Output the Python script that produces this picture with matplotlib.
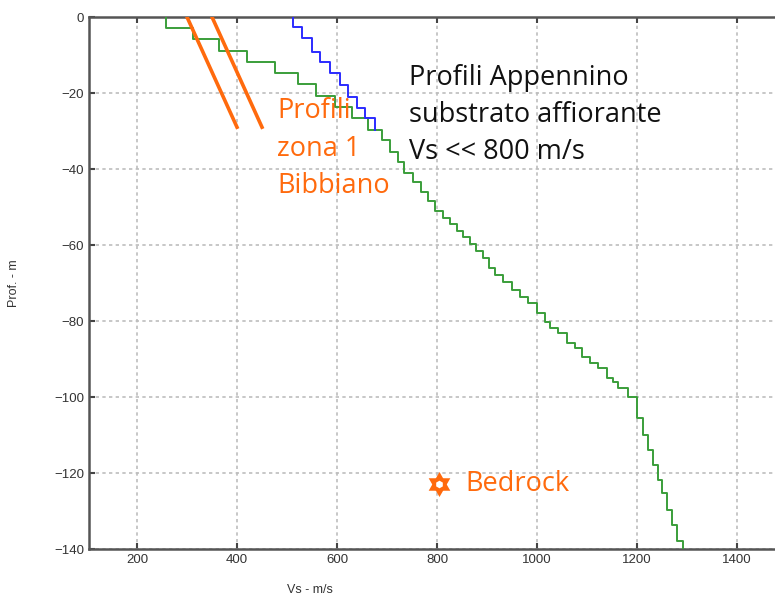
import numpy as np
import matplotlib
matplotlib.use("Agg")
import matplotlib.pyplot as plt

# Profilo verde (Vs di ogni strato e profondità alla base dello strato)
vs_verde = [258, 312, 364, 420, 476, 522, 558, 596, 630, 662, 690, 706, 722,
            734, 752, 768, 782, 796, 812, 826, 840, 852, 866, 878, 892, 904,
            916, 932, 950, 966, 982, 1000, 1016, 1026, 1042, 1060, 1076, 1090,
            1106, 1122, 1140, 1152, 1162, 1182, 1200, 1212, 1222, 1232, 1242,
            1250, 1260, 1270, 1280, 1292]
z_verde = [-2.9, -5.8, -8.9, -11.8, -14.7, -17.6, -20.8, -23.7, -26.6, -29.7,
           -32.4, -35.5, -38.2, -41.0, -43.5, -46.0, -48.5, -51.0, -52.8,
           -54.5, -56.2, -58.0, -59.8, -61.5, -63.3, -66.0, -67.9, -69.7,
           -71.8, -73.7, -75.3, -77.9, -80.3, -81.8, -83.2, -85.8, -87.1,
           -89.5, -91.0, -92.4, -95.0, -96.0, -97.6, -100.0, -105.5, -110.0,
           -114.0, -117.9, -121.8, -125.3, -129.7, -133.7, -137.9, -140.0]

# Profilo blu
vs_blu = [512, 530, 550, 566, 586, 606, 622, 640, 656, 676]
z_blu = [-2.6, -5.5, -9.2, -11.8, -14.7, -17.9, -21.0, -23.9, -26.6, -29.7]

# Profili zona 1 Bibbiano (rette)
vs_bib1 = [300, 400]
z_bib1 = [0, -29]
vs_bib2 = [350, 450]
z_bib2 = [0, -29]

# Bedrock
vs_bedrock = 805
z_bedrock = -123

x_ticks = [200, 400, 600, 800, 1000, 1200, 1400]
y_ticks = [0, -20, -40, -60, -80, -100, -120, -140]

arancio = '#ff6a0d'


def profilo_a_gradini(vs, z):
    # ogni strato: tratto verticale da tetto a base, poi orizzontale
    xs, ys = [], []
    tetto = 0
    for v, base in zip(vs, z):
        xs += [v, v]
        ys += [tetto, base]
        tetto = base
    return xs, ys


fig = plt.figure(figsize=(7.75, 5.99), dpi=100)
ax = fig.add_axes([89/775, 50/599, 698/775, 532/599])

xg, yg = profilo_a_gradini(vs_verde, z_verde)
ax.plot(xg, yg, color='#3a9e3a', lw=1.4, zorder=3)
xb, yb = profilo_a_gradini(vs_blu, z_blu)
ax.plot(xb, yb, color='#2b2bff', lw=1.4, zorder=4)

ax.plot(vs_bib1, z_bib1, color=arancio, lw=2.6, zorder=5)
ax.plot(vs_bib2, z_bib2, color=arancio, lw=2.6, zorder=5)

ax.set_xlim(104, 1500)
ax.set_ylim(-140, 0)
ax.set_xticks(x_ticks)
ax.set_yticks(y_ticks)
ax.grid(True, color='#bdbdbd', ls=(0, (2, 2)), lw=1.2)
ax.tick_params(direction='in', top=True, right=True, length=4, width=1.5,
               color='#444444', labelsize=9.5, labelcolor='#333333')
for lab in ax.get_xticklabels() + ax.get_yticklabels():
    lab.set_family('Liberation Sans')
for s in ['left', 'bottom', 'top']:
    ax.spines[s].set_color('#555555')
    ax.spines[s].set_linewidth(1.8)

ax.set_xlabel('Vs - m/s', fontsize=9, family='Liberation Sans', color='#333333')
ax.xaxis.set_label_coords(0.317, -0.065)
ax.set_ylabel('Prof. - m', fontsize=9, family='Liberation Sans', color='#333333')
ax.yaxis.set_label_coords(-0.099, 0.5)

ax.text(409/775, 1 - 64/599, 'Profili Appennino\nsubstrato affiorante\nVs << 800 m/s',
        transform=fig.transFigure, fontsize=19.5, family='Open Sans', color='#111111',
        va='top', ha='left', linespacing=1.42, zorder=8)
ax.text(277/775, 1 - 97/599, 'Profili\nzona 1\nBibbiano',
        transform=fig.transFigure, fontsize=19.5, family='Open Sans', color=arancio,
        va='top', ha='left', linespacing=1.46, zorder=8)

# stella a sei punte: due triangoli con lo stesso baricentro
tri_su = [(0, 1), (-0.866, -0.5), (0.866, -0.5)]
tri_giu = [(0, -1), (-0.866, 0.5), (0.866, 0.5)]
ax.plot(vs_bedrock, z_bedrock, marker=tri_su, ms=18, color=arancio,
        mew=0, ls='none', zorder=6)
ax.plot(vs_bedrock, z_bedrock, marker=tri_giu, ms=18, color=arancio,
        mew=0, ls='none', zorder=6)
ax.plot(vs_bedrock, z_bedrock, marker='h', ms=5.5, color='white',
        mew=0, ls='none', zorder=7)
ax.text(vs_bedrock + 52, z_bedrock, 'Bedrock', fontsize=19.5, family='Open Sans',
        color=arancio, ha='left', va='center')

fig.savefig('out.png', dpi=100)
